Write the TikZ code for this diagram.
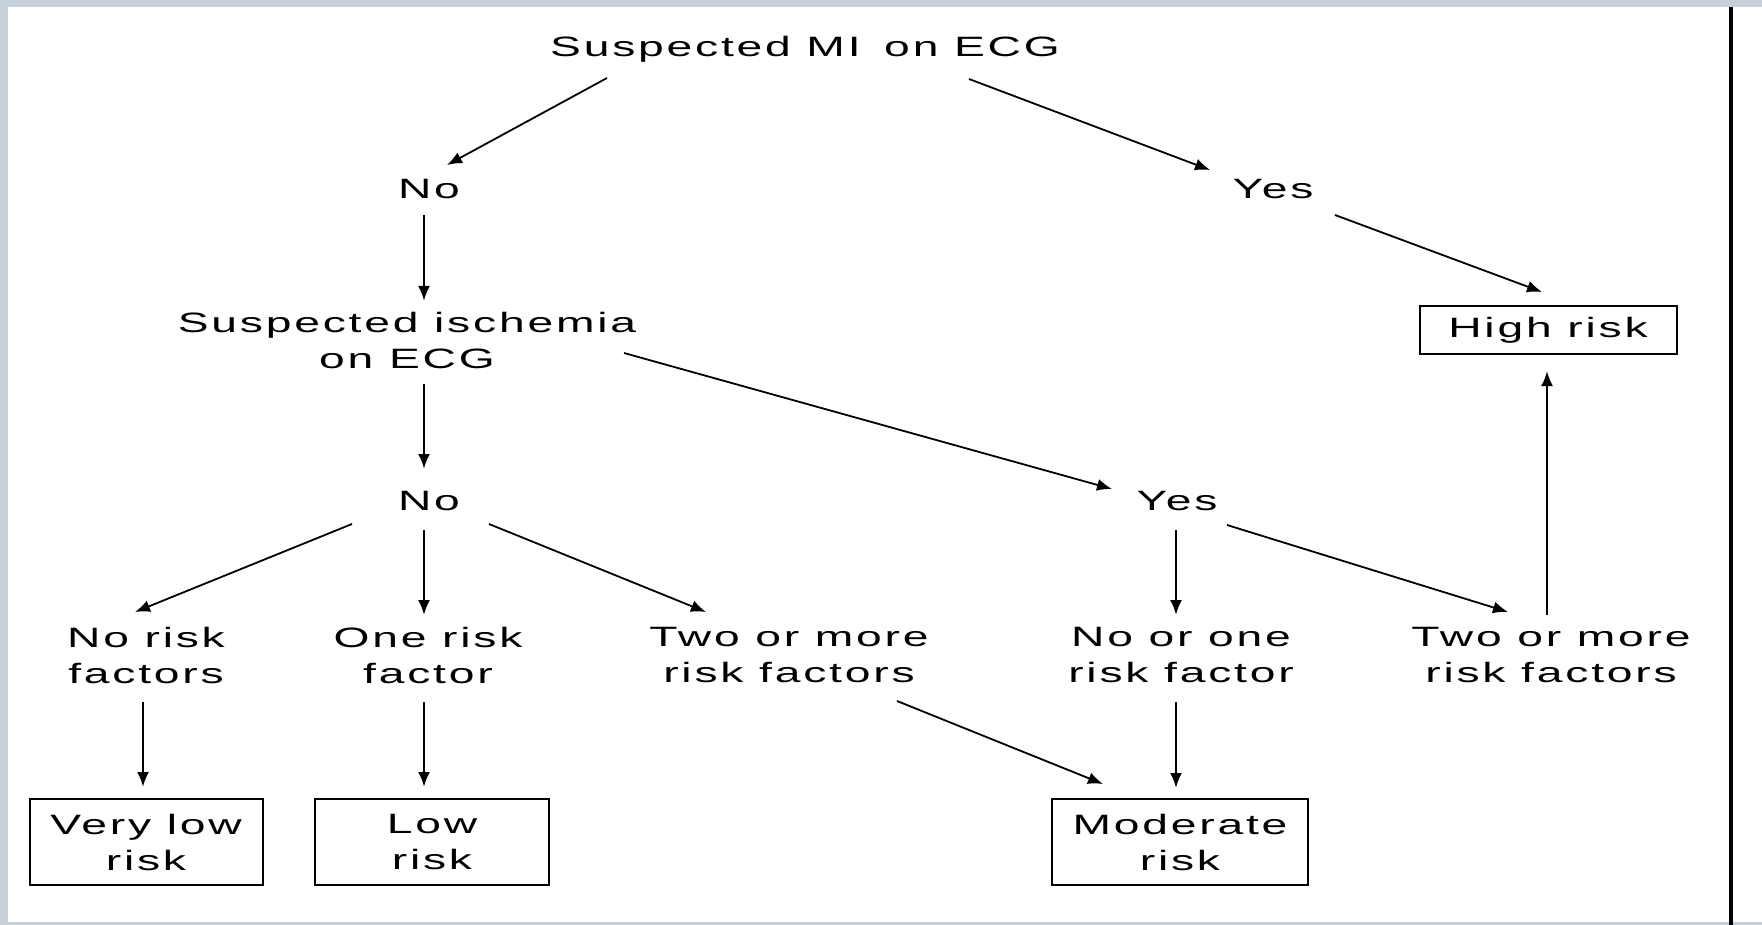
\documentclass[tikz,border=0pt]{standalone}
\usepackage{fontspec}
\setmainfont{Liberation Sans}[FakeStretch=1.65,LetterSpace=10]
\usetikzlibrary{calc,arrows.meta}
\definecolor{frame}{RGB}{197,208,216}
\tikzset{>={Latex[length=15pt,width=12pt]}}
\tikzset{
  lbl/.style={align=center,inner sep=0pt},
  risk/.style={draw,line width=2pt,align=center,inner sep=0pt,minimum height=86},
  arr/.style={->,line width=1.8pt},
  varr/.style={->,line width=2.4pt},
}

\begin{document}
\begin{tikzpicture}[x=1pt,y=-1pt,font=\fontsize{28}{36}\selectfont]
  \useasboundingbox (0,0) rectangle (1762,925);
  \fill[frame] (0,0) rectangle (1762,925);
  \fill[white] (8,7) rectangle (1762,922);
  \draw[line width=3.5pt] (1731,7) -- (1731,925);
  % questions and answers
  \node[lbl] (mi)    at (805,49)  {Suspected MI\hspace{8pt} on ECG};
  \node[lbl] (no1)   at (429,189) {No};
  \node[lbl] (yes1)  at (1273,189) {Yes};
  \node[lbl] (isch)  at (407,340) {Suspected ischemia\\on ECG};
  \node[lbl] (no2)   at (429,501) {No};
  \node[lbl] (yes2)  at (1177,501) {Yes};
  \node[lbl] (rf0)   at (146,655) {No risk\\factors};
  \node[lbl] (rf1)   at (428,655) {One risk\\factor};
  \node[lbl] (rf2)   at (789,655) {Two or more\\risk factors};
  \node[lbl] (rf01)  at (1181,655) {No or one\\risk factor};
  \node[lbl] (rf2b)  at (1551,655) {Two or more\\risk factors};
  % outcomes
  \node[risk,minimum width=233] (vlow) at (146,842)  {Very low\\risk};
  \node[risk,minimum width=234] (low)  at (432,842)  {Low\\risk};
  \node[risk,minimum width=256] (mod)  at (1180,842) {Moderate\\risk};
  \node[risk,minimum width=257,minimum height=48] (high) at (1548,330) {High risk};
  % arrows
  \draw[arr] ($(mi)+(-198,29)$) -- ($(no1)+(18,-24)$);
  \draw[arr] ($(mi)+(164,30)$) -- ($(yes1)+(-63,-19)$);
  \draw[arr] ($(yes1)+(62,26)$) -- ($(high)+(-6,-38)$);
  \draw[varr] ($(no1)+(-5,26)$) -- ($(isch)+(17,-39)$);
  \draw[varr] ($(isch)+(17,44)$) -- ($(no2)+(-5,-32)$);
  \draw[arr] ($(isch)+(217,13)$) -- ($(yes2)+(-65,-12)$);
  \draw[arr] ($(no2)+(-77,23)$) -- ($(rf0)+(-11,-43)$);
  \draw[varr] ($(no2)+(-5,29)$) -- ($(rf1)+(-4,-40)$);
  \draw[arr] ($(no2)+(60,23)$) -- ($(rf2)+(-83,-43)$);
  \draw[varr] ($(yes2)+(-1,29)$) -- ($(rf01)+(-5,-40)$);
  \draw[arr] ($(yes2)+(50,24)$) -- ($(rf2b)+(-43,-43)$);
  \draw[varr] ($(rf2b)+(-4,-40)$) -- ($(high)+(-1,41)$);
  \draw[arr] ($(rf2)+(108,46)$) -- ($(mod)+(-77,-58)$);
  \draw[varr] ($(rf01)+(-5,47)$) -- ($(mod)+(-4,-54)$);
  \draw[varr] ($(rf0)+(-3,47)$) -- ($(vlow)+(-3,-55)$);
  \draw[varr] ($(rf1)+(-4,47)$) -- ($(low)+(-8,-55)$);
\end{tikzpicture}
\end{document}
